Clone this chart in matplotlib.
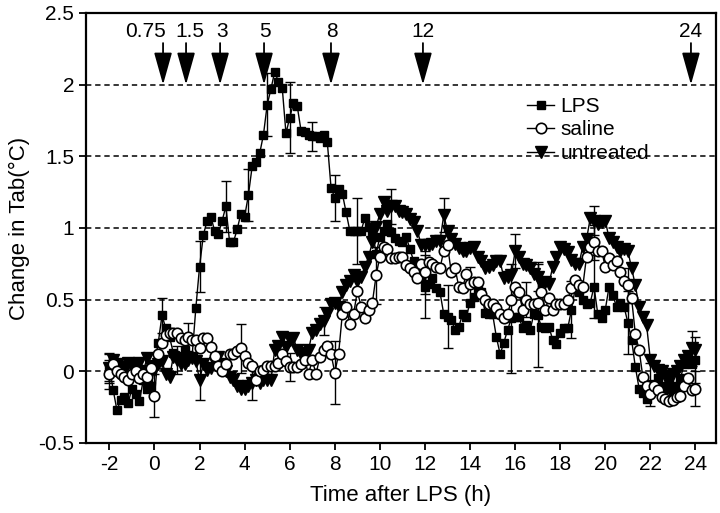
import numpy as np
import matplotlib
matplotlib.use("Agg")
import matplotlib.pyplot as plt

plt.rcParams['font.family'] = ['Liberation Sans', 'DejaVu Sans']
plt.rcParams['axes.unicode_minus'] = False

# ---- data: 10-min samples from -2 h to 24 h (one row per hour) ----
T_START = -2.0
T_STEP = 1.0 / 6.0

lps = [
    0.03, -0.13, -0.27, -0.20, -0.18, -0.22,
    -0.12, -0.16, -0.21, -0.06, -0.12, -0.10,
    0.05, 0.20, 0.39, 0.30, 0.24, 0.13,
    0.11, 0.10, 0.15, 0.09, 0.10, 0.44,
    0.73, 0.95, 1.05, 1.08, 0.98, 0.96,
    1.05, 1.15, 0.90, 0.90, 0.99, 1.10,
    1.08, 1.23, 1.43, 1.46, 1.52, 1.65,
    1.86, 1.97, 2.09, 2.02, 1.98, 1.66,
    1.77, 1.87, 1.85, 1.68, 1.67, 1.65,
    1.64, 1.64, 1.63, 1.65, 1.60, 1.28,
    1.21, 1.27, 1.24, 1.11, 0.98, 0.98,
    0.98, 0.98, 1.07, 1.01, 0.98, 0.82,
    0.94, 0.98, 1.03, 0.97, 0.93, 0.91,
    0.90, 0.94, 0.85, 0.77, 0.75, 0.65,
    0.59, 0.61, 0.65, 0.58, 0.55, 0.40,
    0.38, 0.36, 0.29, 0.31, 0.40, 0.38,
    0.48, 0.52, 0.57, 0.55, 0.41, 0.40,
    0.40, 0.24, 0.12, 0.20, 0.29, 0.37,
    0.38, 0.38, 0.30, 0.32, 0.29, 0.40,
    0.39, 0.31, 0.30, 0.31, 0.22, 0.19,
    0.27, 0.30, 0.30, 0.43, 0.58, 0.55,
    0.50, 0.47, 0.48, 0.59, 0.40, 0.37,
    0.43, 0.59, 0.53, 0.45, 0.48, 0.45,
    0.34, 0.22, 0.03, -0.12, -0.15, -0.19,
    -0.09, -0.12, -0.05, -0.10, -0.12, -0.08,
    -0.14, -0.10, -0.05, 0.05, 0.08, 0.05,
    0.08,
]

saline = [
    -0.02, 0.05, 0.00, -0.02, -0.04, -0.06,
    -0.02, 0.00, -0.05, -0.02, -0.04, 0.02,
    -0.17, 0.12, 0.20, 0.25, 0.27, 0.27,
    0.27, 0.23, 0.22, 0.24, 0.22, 0.22,
    0.16, 0.23, 0.23, 0.17, 0.11, 0.04,
    0.00, 0.05, 0.12, 0.12, 0.14, 0.16,
    0.11, 0.06, 0.04, -0.06, 0.00, 0.01,
    0.04, 0.04, 0.04, 0.06, 0.12, 0.07,
    0.03, 0.03, 0.03, 0.05, 0.08, -0.02,
    0.08, -0.02, 0.10, 0.15, 0.18, 0.12,
    -0.01, 0.12, 0.40, 0.45, 0.33, 0.40,
    0.56, 0.45, 0.37, 0.43, 0.48, 0.67,
    0.80, 0.87, 0.85, 0.79, 0.79, 0.80,
    0.80, 0.74, 0.72, 0.69, 0.65, 0.75,
    0.69, 0.76, 0.75, 0.73, 0.72, 0.84,
    0.88, 0.69, 0.72, 0.59, 0.58, 0.68,
    0.61, 0.62, 0.62, 0.54, 0.50, 0.47,
    0.47, 0.44, 0.40, 0.37, 0.40, 0.50,
    0.59, 0.55, 0.43, 0.50, 0.47, 0.47,
    0.48, 0.55, 0.43, 0.51, 0.43, 0.47,
    0.47, 0.47, 0.50, 0.58, 0.64, 0.60,
    0.59, 0.80, 0.87, 0.90, 0.84, 0.84,
    0.73, 0.79, 0.74, 0.77, 0.69, 0.63,
    0.60, 0.51, 0.26, 0.15, -0.04, -0.10,
    -0.16, -0.10, -0.13, -0.18, -0.19, -0.21,
    -0.20, -0.18, -0.17, -0.10, -0.05, -0.13,
    -0.12,
]

untreated = [
    0.02, 0.08, 0.05, 0.03, 0.00, 0.06,
    0.04, 0.02, 0.06, 0.00, 0.09, 0.03,
    0.01, 0.05, 0.07, -0.02, -0.04, 0.10,
    0.08, 0.05, 0.05, 0.08, 0.09, 0.07,
    -0.06, 0.05, 0.01, 0.02, 0.06, 0.10,
    0.05, 0.00, -0.04, -0.06, -0.10, -0.12,
    -0.12, -0.10, -0.08, -0.06, -0.08, -0.06,
    -0.06, -0.06, 0.15, 0.18, 0.24, 0.17,
    0.22, 0.23, 0.15, 0.12, 0.13, 0.15,
    0.27, 0.29, 0.33, 0.35, 0.40, 0.47,
    0.48, 0.45, 0.55, 0.60, 0.63, 0.67,
    0.63, 0.66, 0.73, 0.80, 0.90, 1.01,
    1.10, 1.18, 1.12, 1.15, 1.15, 1.12,
    1.11, 1.10, 1.06, 1.04, 0.98, 0.88,
    0.88, 0.88, 0.89, 0.91, 0.91, 1.09,
    0.98, 0.92, 0.89, 0.86, 0.84, 0.84,
    0.86, 0.87, 0.80, 0.77, 0.72, 0.73,
    0.74, 0.77, 0.77, 0.65, 0.66, 0.67,
    0.84, 0.80, 0.75, 0.74, 0.72, 0.68,
    0.66, 0.61, 0.62, 0.61, 0.73, 0.80,
    0.87, 0.85, 0.83, 0.78, 0.75, 0.75,
    0.87, 0.92, 1.07, 1.05, 1.03, 1.04,
    1.05, 0.93, 0.90, 0.87, 0.84, 0.85,
    0.84, 0.72, 0.60, 0.45, 0.38, 0.32,
    0.08, 0.04, 0.01, 0.00, -0.03, -0.04,
    -0.02, 0.00, 0.04, 0.08, 0.11, 0.16,
    0.15,
]

# error bars (time, SEM) at selected samples
lps_err_t = [-2.0, 0.33, 2.0, 3.17, 4.17, 5.0, 6.0, 7.0, 8.0, 9.0, 12.0, 13.0, 15.83, 17.0, 18.5, 19.5, 21.0, 22.0, 24.0]
lps_err = [0.10, 0.12, 0.18, 0.18, 0.18, 0.22, 0.25, 0.10, 0.16, 0.23, 0.22, 0.22, 0.38, 0.36, 0.20, 0.22, 0.22, 0.15, 0.16]
sal_err_t = [-2.0, 0.0, 1.5, 3.83, 6.0, 8.0, 9.83, 12.0, 14.0, 16.5, 19.5, 21.0, 24.0]
sal_err = [0.10, 0.15, 0.10, 0.17, 0.10, 0.22, 0.20, 0.15, 0.12, 0.12, 0.12, 0.12, 0.12]
unt_err_t = [-2.0, 1.0, 2.0, 4.33, 7.5, 10.5, 12.83, 16.0, 17.0, 19.5, 23.83]
unt_err = [0.10, 0.10, 0.14, 0.12, 0.10, 0.12, 0.12, 0.12, 0.10, 0.10, 0.12]

arrow_labels = ["0.75", "1.5", "3", "5", "8", "12", "24"]
arrow_x = [0.38, 1.40, 2.91, 4.86, 7.83, 11.91, 23.80]
arrow_label_x = [-0.38, 1.55, 2.98, 4.90, 7.88, 11.91, 23.80]

series_names = ["LPS", "saline", "untreated"]

# ---- figure ----
fig = plt.figure(figsize=(7.2, 5.13), dpi=100)
ax = fig.add_axes([0.1194, 0.1365, 0.8750, 0.8382])

t = T_START + np.arange(len(lps)) * T_STEP


def idx(times):
    return [int(round((tt - T_START) / T_STEP)) for tt in times]


for yv in [0, 0.5, 1.0, 1.5, 2.0]:
    ax.axhline(yv, color='black', lw=1.1, ls=(0, (3.5, 2.5)), zorder=1)

styles = [
    (lps, lps_err_t, lps_err, dict(marker='s', ms=6, mfc='black', mec='black')),
    (untreated, unt_err_t, unt_err, dict(marker='v', ms=8, mfc='black', mec='black')),
    (saline, sal_err_t, sal_err, dict(marker='o', ms=7.5, mfc='white', mec='black', mew=1.2)),
]
handles = {}
for (vals, et, ev, st), name in zip(styles, ["LPS", "untreated", "saline"]):
    vals = np.array(vals)
    ii = idx(et)
    ax.errorbar(t[ii], vals[ii], yerr=ev, fmt='none', ecolor='black',
                elinewidth=1.0, capsize=3.5, capthick=1.0, zorder=2)
    h, = ax.plot(t, vals, color='black', lw=1.0, zorder=3, **st)
    handles[name] = h

for ax_, lab, lx in zip(arrow_x, arrow_labels, arrow_label_x):
    ax.annotate('', xy=(ax_, 2.0), xytext=(ax_, 2.29),
                arrowprops=dict(arrowstyle='-|>,head_length=1.0,head_width=0.28',
                                mutation_scale=20, color='black', lw=1.3,
                                shrinkA=0, shrinkB=0))
    ax.text(lx, 2.37, lab, ha='center', va='center', fontsize=15)

ax.set_xlim(-3.04, 24.91)
ax.set_ylim(-0.5, 2.5)
ax.set_xticks(range(-2, 25, 2))
ax.set_yticks([-0.5, 0, 0.5, 1, 1.5, 2, 2.5])
ax.set_yticklabels(["-0.5", "0", "0.5", "1", "1.5", "2", "2.5"])
ax.tick_params(axis='both', direction='out', length=5, width=1.3, labelsize=15)
for s in ax.spines.values():
    s.set_linewidth(1.6)

ax.set_xlabel("Time after LPS (h)", fontsize=16, labelpad=8)
ax.set_ylabel("Change in Tab(°C)", fontsize=16, labelpad=6)

leg = ax.legend([handles[n] for n in series_names], series_names,
                loc='upper left', bbox_to_anchor=(0.70, 0.805), frameon=False,
                fontsize=15, handlelength=1.3, handletextpad=0.3,
                labelspacing=0.22, borderpad=0, borderaxespad=0)

fig.savefig("out.png", dpi=100)
